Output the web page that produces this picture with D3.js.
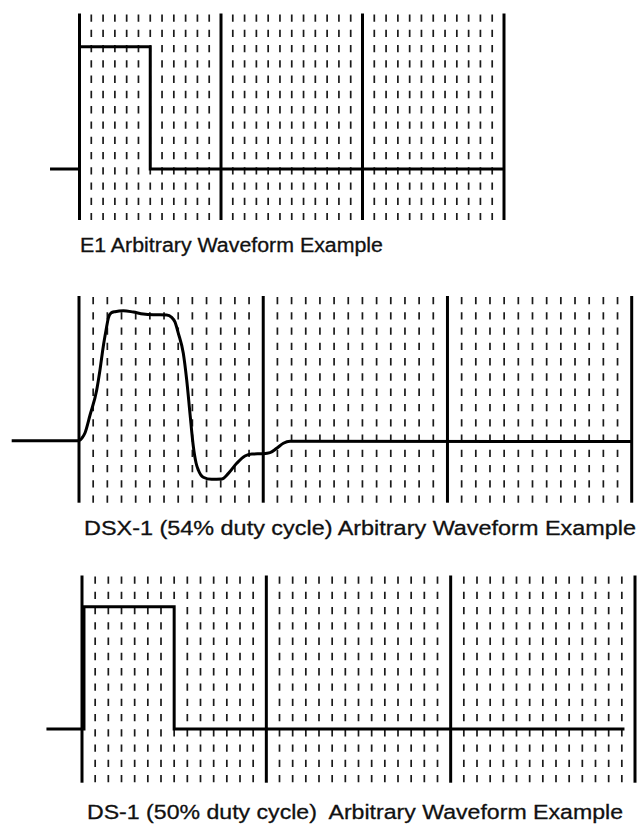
<!DOCTYPE html>
<html>
<head>
<meta charset="utf-8">
<script src="https://cdn.jsdelivr.net/npm/d3@7"></script>
<style>
  html, body { margin: 0; padding: 0; background: #fff; }
  svg { display: block; }
  text { font-family: "Liberation Sans", Arial, Helvetica, sans-serif; fill: #111; }
</style>
</head>
<body>
<svg id="chart" width="641" height="824"></svg>
<script>
// ---------------- DATA ----------------
// Time in minor graticule divisions from the first major line; level: 0 = baseline, 1 = pulse top.
const e1Time  = [-2.5, 0, 0, 6, 6, 36];
const e1Level = [0, 0, 1, 1, 0, 0];

const dsx1Time  = [-4.75, 0, 0.21, 0.42, 0.78, 1.25, 1.48, 1.71, 1.91, 2.07, 2.26, 2.54, 3.13, 3.83, 4.54, 5.24, 6.19, 6.54, 6.77, 7.01, 7.36, 7.60, 7.83, 8.07, 8.26, 8.42, 8.77, 9.36, 10.07, 10.54, 11.13, 11.71, 12.19, 13.01, 13.48, 13.95, 14.42, 14.89, 39];
const dsx1Level = [0, 0, 0.022, 0.063, 0.21, 0.415, 0.578, 0.769, 0.905, 1.003, 1.044, 1.055, 1.063, 1.052, 1.036, 1.03, 1.028, 1.009, 0.971, 0.878, 0.715, 0.496, 0.224, -0.049, -0.182, -0.24, -0.299, -0.316, -0.313, -0.267, -0.185, -0.125, -0.109, -0.106, -0.098, -0.062, -0.021, -0.005, -0.007];

const ds1Time  = [-2.7, 0.15, 0.15, 7, 7, 41.2];
const ds1Level = [0, 0, 1, 1, 0, 0];

const captions = [
  "E1 Arbitrary Waveform Example",
  "DSX-1 (54% duty cycle) Arbitrary Waveform Example",
  "DS-1 (50% duty cycle)  Arbitrary Waveform Example"
];
const minorPerMajor = [12, 13, 14];
const majorCount = 3;

// ---------------- LAYOUT ----------------
const layout = [
  { left: 79.5, right: 504,   top: 13.5,  bottom: 220,   base: 169,   unit: 122.3, capX: 80, capY: 251.5, capW: 303, capF: 19.5, curve: d3.curveLinear },
  { left: 79,   right: 631.7, top: 296,   bottom: 502.7, base: 440.7, unit: 122.3, capX: 84, capY: 535,   capW: 552, capF: 20.5, curve: d3.curveMonotoneX },
  { left: 82,   right: 635,   top: 575.5, bottom: 782.7, base: 729,   unit: 122.3, capX: 87, capY: 819,   capW: 536, capF: 20.5, curve: d3.curveLinear }
];
const series = [
  { t: e1Time, v: e1Level },
  { t: dsx1Time, v: dsx1Level },
  { t: ds1Time, v: ds1Level }
];

const svg = d3.select("#chart");

layout.forEach((L, i) => {
  const nMinor = minorPerMajor[i] * majorCount;
  const x = d3.scaleLinear().domain([0, nMinor]).range([L.left, L.right]);
  const y = d3.scaleLinear().domain([0, 1]).range([L.base, L.base - L.unit]);
  const g = svg.append("g");

  // minor dashed graticule columns
  const minors = d3.range(1, nMinor).filter(k => k % minorPerMajor[i] !== 0);
  g.selectAll("line.minor").data(minors).join("line")
    .attr("class", "minor")
    .attr("x1", d => x(d)).attr("x2", d => x(d))
    .attr("y1", L.top + 1).attr("y2", L.bottom)
    .attr("stroke", "#1a1a1a").attr("stroke-width", 1.7)
    .attr("stroke-dasharray", "7.3 7.97");

  // major lines
  const majors = d3.range(0, majorCount + 1).map(k => k * minorPerMajor[i]);
  g.selectAll("line.major").data(majors).join("line")
    .attr("class", "major")
    .attr("x1", d => x(d)).attr("x2", d => x(d))
    .attr("y1", L.top).attr("y2", L.bottom)
    .attr("stroke", "#000").attr("stroke-width", 3);

  // waveform
  const s = series[i];
  const pts = s.t.map((t, j) => [t, s.v[j]]);
  const line = d3.line().x(d => x(d[0])).y(d => y(d[1])).curve(L.curve);
  g.append("path").datum(pts)
    .attr("d", line)
    .attr("fill", "none").attr("stroke", "#000").attr("stroke-width", 3)
    .attr("stroke-linejoin", "miter");

  // caption
  svg.append("text")
    .attr("x", L.capX).attr("y", L.capY)
    .attr("font-size", L.capF)
    .attr("textLength", L.capW)
    .attr("lengthAdjust", "spacingAndGlyphs")
    .attr("stroke", "#111").attr("stroke-width", 0.3)
    .attr("xml:space", "preserve")
    .style("white-space", "pre")
    .text(captions[i]);
});
</script>
</body>
</html>
